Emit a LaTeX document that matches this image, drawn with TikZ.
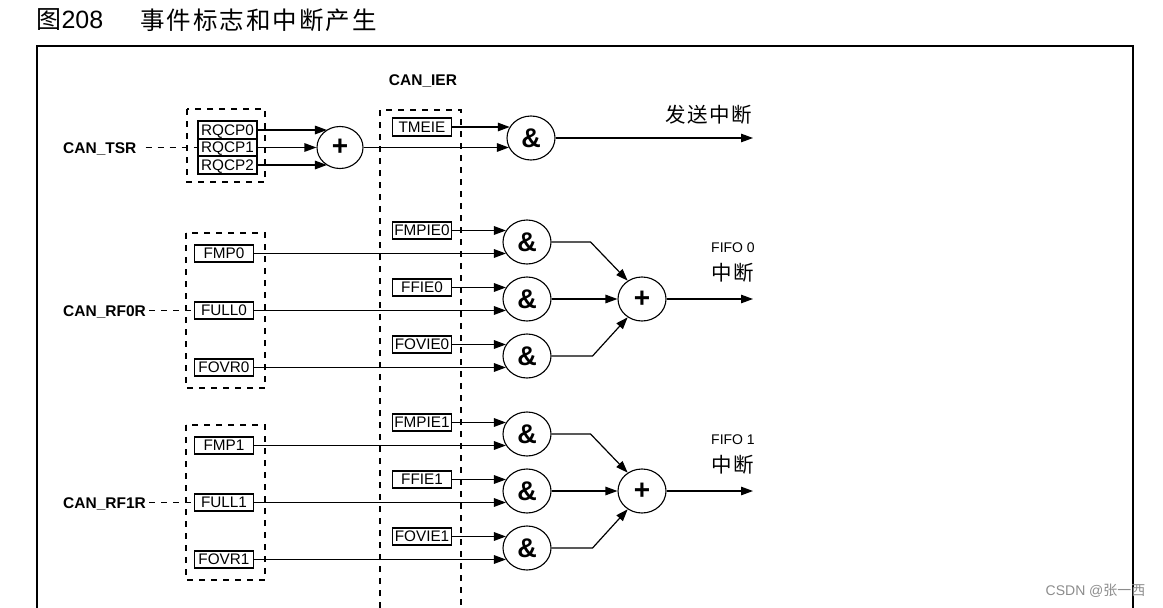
\documentclass[tikz,border=0pt]{standalone}
\usepackage{fontspec}
\setmainfont{Liberation Sans}
\newfontfamily\cjk{Noto Sans CJK SC}
\newfontfamily\cjkwide[LetterSpace=8]{Noto Sans CJK SC}
\usetikzlibrary{arrows.meta,shapes.geometric}
\tikzset{
  flag/.style={draw, line width=1.6pt, minimum width=59pt, minimum height=17.5pt, inner sep=1pt,
    text height=10.9pt, text depth=0pt, font=\fontsize{15.3}{17}\selectfont},
  reglbl/.style={font=\bfseries\fontsize{15.5}{18}\selectfont, text height=11pt, text depth=0pt, inner sep=3pt},
  cjklbl/.style={font=\cjkwide\fontsize{20.5}{24}\selectfont, inner sep=0pt},
  gate/.style={ellipse, draw, line width=1.1pt, minimum width=48pt, minimum height=44pt, inner sep=0pt,
    font=\bfseries\fontsize{27}{27}\selectfont},
  orgate/.style={gate, font=\bfseries\fontsize{28}{28}\selectfont},
  regbox/.style={line width=1.3pt, dash pattern=on 6pt off 6pt},
  sig/.style={line width=1.4pt, -{Triangle[length=12pt,width=8.5pt]}},
  wire/.style={line width=1.2pt, -{Triangle[length=12pt,width=8.5pt]}}
}

\begin{document}
\begin{tikzpicture}[x=1pt,y=-1pt]
\useasboundingbox (0,0) rectangle (1163,608);
\clip (0,0) rectangle (1163,608);
\node[anchor=west, font=\fontsize{25}{30}\selectfont] (fignum) at (33,20) {{\cjk 图}208};
\node[anchor=west, font=\cjkwide\fontsize{24.5}{30}\selectfont] (figtitle) at (137,20) {事件标志和中断产生};
\draw[line width=1.6pt] (37,620) -- (37,46) -- (1133,46) -- (1133,620);

% transmit
\node[reglbl, anchor=west] (tsr) at (60,147.5) {CAN\_TSR};
\draw[regbox] (187,109) rectangle (265,182);
\foreach \i/\yy in {0/130,1/147.5,2/165}
  \node[flag] (rqcp\i) at (227.5,\yy) {RQCP\i};
\draw[regbox] ([xshift=6pt]tsr.east) -- (rqcp1.west);
\node[reglbl] (ier) at (423,80) {CAN\_IER};
\draw[regbox] (380,620) -- (380,110) -- (461,110) -- (461,620);
\node[flag] (tmeie) at (422,127) {TMEIE};
\node[orgate, minimum width=46pt, minimum height=42pt] (orT) at (340,147.5) {+};
\node[gate] (andT) at (531,138) {\&};
\coordinate (outT) at (753,138);
\node[cjklbl] (txirq) at (709,115) {发送中断};
\foreach \i/\a in {0/126,1/180,2/234}
  \draw[sig] (rqcp\i.east) -- (orT.\a |- rqcp\i.east);
\draw[sig] (orT.east) -- (andT.204 |- orT.east);
\draw[sig] (tmeie.east) -- (andT.152 |- tmeie.east);
\draw[wire] (andT.east) -- (outT);

% fifo 0 / fifo 1
\foreach \sect/\yy in {0/299,1/491}{
  \node[reglbl, anchor=west] (rf\sect) at (60,\yy+11.5) {CAN\_RF\sect R};
  \draw[regbox] (186,\yy-66) rectangle (265,\yy+89);
  \node[orgate] (or\sect) at (642,\yy) {+};
  \coordinate (out\sect) at (753,\yy);
  \node[font=\fontsize{14}{16}\selectfont, inner sep=0pt] (fifo\sect) at (733,\yy-51) {FIFO \sect};
  \node[cjklbl] (irq\sect) at (733,\yy-26) {中断};
  \foreach \j/\dy/\st/\ie in {1/-57/FMP/FMPIE,2/0/FULL/FFIE,3/57/FOVR/FOVIE}{
    \node[flag] (st\sect\j) at (224,\yy+\dy+11.5) {\st\sect};
    \node[flag] (ie\sect\j) at (422,\yy+\dy-11.5) {\ie\sect};
    \node[gate] (and\sect\j) at (527,\yy+\dy) {\&};
    \draw[sig] (st\sect\j.east) -- (and\sect\j.209 |- st\sect\j.east);
    \draw[sig] (ie\sect\j.east) -- (and\sect\j.151 |- ie\sect\j.east);
  }
  \draw[regbox] (rf\sect.east) -- (st\sect2.west);
  \draw[wire] (and\sect1.east) -- ++(39,0) -- (or\sect.128);
  \draw[wire] (and\sect2) -- (or\sect);
  \draw[wire] (and\sect3.east) -- ++(41,0) -- (or\sect.232);
  \draw[wire] (or\sect.east) -- (out\sect);
}

\node[anchor=east, text=black!45, font=\fontsize{14}{16}\selectfont] (mark) at (1149,591) {CSDN @{\cjk 张一西}};
\end{tikzpicture}
\end{document}
